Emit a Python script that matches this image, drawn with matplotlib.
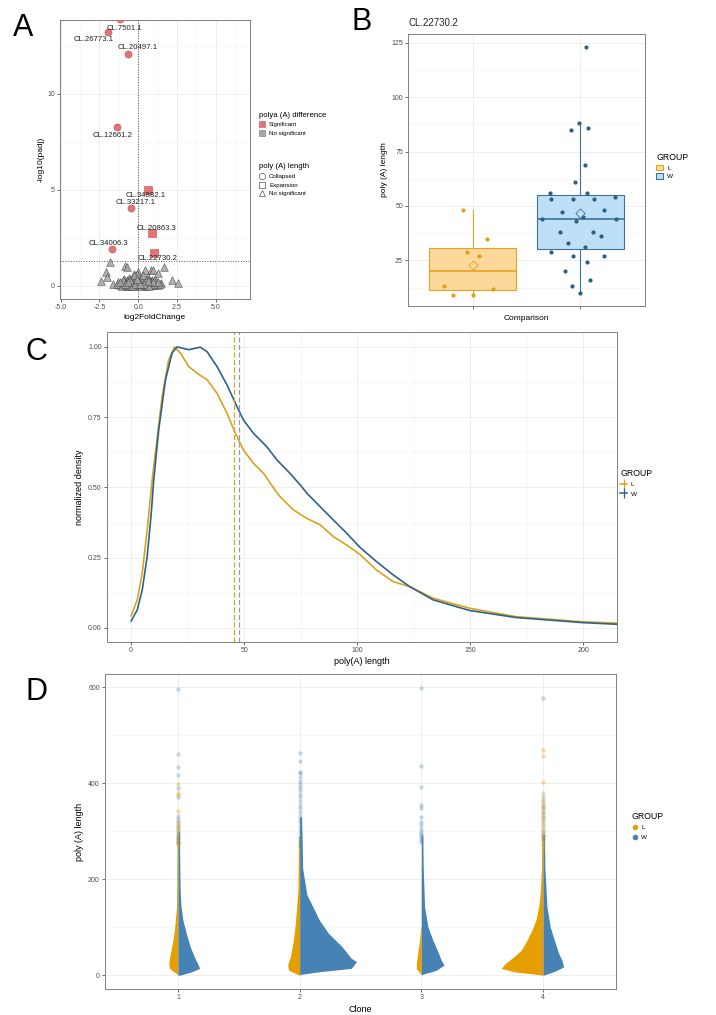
import matplotlib
matplotlib.use("Agg")
import matplotlib.pyplot as plt
from matplotlib.lines import Line2D
from matplotlib.patches import Patch
from matplotlib.ticker import MultipleLocator, FixedLocator, FormatStrFormatter

plt.rcParams['font.family'] = ['Liberation Sans', 'DejaVu Sans']
plt.rcParams['axes.unicode_minus'] = False

# ---------------- panel A : volcano ----------------
sig_names = ['CL.7501.1', 'CL.26773.1', 'CL.20497.1', 'CL.12661.2', 'CL.34882.1',
             'CL.33217.1', 'CL.20863.3', 'CL.34006.3', 'CL.22730.2']
sig_lfc = [-1.15, -1.92, -0.64, -1.35, 0.65, -0.45, 0.90, -1.67, 1.00]
sig_padj = [13.9, 13.2, 12.1, 8.27, 5.0, 4.06, 2.75, 1.92, 1.72]
# label offsets in points
lab_dx = [3, -11, 6.5, -3.6, -2, 3, 3, -3, 3]
lab_dy = [-7, -5, 4.3, -5.8, -4.3, 4.3, 3.6, 4.3, -4.3]

ns_lfc = [-1.8, -0.85, -0.75, 0.45, 0.85, 0.95, 1.65, 1.3, -2.1, -2.0, -2.4, 2.2, 2.55,
          0.0, -0.25, -1.6, -1.3, 1.5,
          -1.2, -1.1, -1.0, -0.95, -0.9, -0.85, -0.8, -0.75, -0.7, -0.65, -0.6, -0.55,
          -0.5, -0.45, -0.4, -0.35, -0.3, -0.25, -0.2, -0.15, -0.1, -0.05, 0.0, 0.05,
          0.1, 0.15, 0.2, 0.25, 0.3, 0.35, 0.4, 0.45, 0.5, 0.55, 0.6, 0.65, 0.7, 0.75,
          0.8, 0.85, 0.9, 0.95, 1.0, 1.1, 1.2, 1.3, 1.4, -1.35, -0.05, 0.2, -0.6, 0.6,
          -1.05, -0.92, -0.78, -0.62, -0.48, -0.33, -0.18, -0.02, 0.12, 0.28, 0.42,
          0.58, 0.72, 0.88, 1.02, 1.15, -0.98, -0.7, -0.42, -0.12, 0.18, 0.48, 0.78,
          1.05, -0.88, -0.55, -0.22, 0.08, 0.38, 0.68, 0.98, -0.3, 0.3, -0.65, 0.65,
          1.25, -1.15, 0.1, -0.1]
ns_padj = [1.25, 1.02, 1.0, 0.85, 0.85, 0.85, 1.0, 0.68, 0.72, 0.45, 0.25, 0.3, 0.15,
           0.72, 0.6, 0.12, 0.2, 0.15,
           0.05, 0.15, 0.25, 0.05, 0.35, 0.12, 0.22, 0.02, 0.3, 0.1, 0.42, 0.18,
           0.05, 0.28, 0.38, 0.12, 0.22, 0.02, 0.45, 0.15, 0.3, 0.08, 0.5, 0.2,
           0.35, 0.03, 0.42, 0.13, 0.25, 0.06, 0.33, 0.18, 0.02, 0.28, 0.1, 0.38, 0.16, 0.05,
           0.25, 0.12, 0.3, 0.03, 0.2, 0.08, 0.15, 0.03, 0.1, 0.1, 0.6, 0.02, 0.02, 0.45,
           0.02, 0.2, 0.1, 0.25, 0.15, 0.05, 0.32, 0.22, 0.1, 0.38, 0.05,
           0.22, 0.3, 0.04, 0.12, 0.26, 0.32, 0.05, 0.02, 0.15, 0.28, 0.35, 0.22,
           0.3, 0.08, 0.3, 0.08, 0.28, 0.12, 0.02, 0.2, 0.55, 0.55, 0.2, 0.25,
           0.22, 0.2, 0.12, 0.38]
padj_cut = 1.3

# ---------------- panel B : boxplot ----------------
b_title = 'CL.22730.2'
b_L = [48, 29, 27, 35, 13, 9, 9, 12]
b_L_jit = [-0.093, -0.058, 0.056, 0.13, -0.27, -0.18, 0.0, 0.19]
b_W = [123, 88, 85, 86, 69, 61, 56, 56, 53, 53, 53, 54, 47, 48, 45, 43, 44, 44,
       38, 38, 33, 36, 31, 29, 27, 27, 24, 20, 16, 13, 10]
b_W_jit = [0.053, -0.01, -0.086, 0.071, 0.046, -0.05, -0.28, 0.065, -0.27, -0.07, 0.127,
           0.318, -0.17, 0.22, 0.028, -0.046, 0.33, -0.36, -0.194, 0.12, -0.114, 0.188,
           0.04, -0.27, -0.07, 0.22, 0.058, -0.14, 0.09, -0.08, 0.0]

# ---------------- panel C : normalized density ----------------
c_x_W = [0, 2.7, 4.9, 7.1, 8.9, 10, 12.2, 15.2, 18.1, 20.3, 25.5, 30.6, 33.6, 38, 42.4,
         46.8, 49.7, 54.1, 60, 64.5, 70.3, 74.8, 77.7, 83.6, 89.5, 95.4, 101.2, 108.6,
         115.9, 123.3, 133.6, 149.8, 170.4, 199.8, 215.2]
c_y_W = [0.025, 0.064, 0.135, 0.254, 0.408, 0.527, 0.705, 0.883, 0.978, 1.0, 0.99, 0.999,
         0.983, 0.93, 0.865, 0.788, 0.74, 0.693, 0.645, 0.598, 0.55, 0.509, 0.48, 0.432,
         0.384, 0.337, 0.287, 0.236, 0.189, 0.147, 0.1, 0.062, 0.037, 0.019, 0.013]
c_x_L = [0, 2.7, 4.9, 7.1, 9.3, 13.7, 16.6, 19.2, 21.8, 25.5, 29.2, 33.6, 38, 42.4, 46.1,
         49.7, 54.1, 58.6, 63.7, 65.9, 71.8, 77.7, 83.6, 89.5, 95.4, 101.2, 108.6, 115.9,
         123.3, 133.6, 149.8, 170.4, 199.8, 215.2]
c_y_L = [0.043, 0.1, 0.195, 0.349, 0.527, 0.823, 0.954, 1.0, 0.978, 0.93, 0.906, 0.883,
         0.835, 0.764, 0.693, 0.633, 0.586, 0.55, 0.49, 0.467, 0.42, 0.39, 0.367, 0.325,
         0.295, 0.262, 0.206, 0.165, 0.147, 0.106, 0.07, 0.04, 0.022, 0.017]
c_mean_L = 45.6
c_mean_W = 47.7

# ---------------- panel D : split point clouds per clone ----------------
clones = [1, 2, 3, 4]
d_L_y = [[0, 3.5, 7, 14, 24, 45, 72, 100, 142, 200, 290],
         [0, 3.5, 10, 21, 38, 72, 108, 177, 290],
         [0, 5, 14, 24, 52, 72, 100],
         [0, 1.4, 7, 14, 24, 38, 52, 73, 94, 115, 142, 174, 222, 292]]
d_L_w = [[0, 0.014, 0.035, 0.068, 0.076, 0.063, 0.041, 0.027, 0.012, 0.01, 0.008],
         [0, 0.035, 0.09, 0.099, 0.076, 0.052, 0.035, 0.014, 0.008],
         [0, 0.014, 0.041, 0.041, 0.027, 0.014, 0.006],
         [0, 0.049, 0.241, 0.343, 0.31, 0.241, 0.178, 0.131, 0.09, 0.058, 0.035, 0.022,
          0.012, 0.01]]
d_W_y = [[0, 7, 14, 24, 38, 59, 87, 114, 142, 177, 250, 300],
         [0, 1.5, 7, 14, 28, 35, 59, 87, 115, 139, 167, 222, 292, 330],
         [0, 2, 10, 21, 31, 52, 72, 100, 142, 222, 292],
         [0, 7, 17, 31, 45, 73, 100, 142, 222, 292]]
d_W_w = [[0.019, 0.115, 0.178, 0.162, 0.134, 0.101, 0.068, 0.041, 0.025, 0.018, 0.014, 0.012],
         [0, 0.008, 0.161, 0.424, 0.468, 0.424, 0.349, 0.237, 0.161, 0.115, 0.06, 0.025,
          0.019, 0.014],
         [0, 0.014, 0.123, 0.187, 0.164, 0.131, 0.096, 0.055, 0.027, 0.016, 0.012],
         [0.006, 0.088, 0.17, 0.156, 0.129, 0.093, 0.06, 0.033, 0.016, 0.012]]
d_tail_W = [[595, 460, 433, 416, 389, 370, 331, 325, 318, 312, 306, 300, 294, 290, 286,
             282, 278, 275],
            [463, 446, 424, 420, 413, 405, 398, 392, 385, 378, 370, 362, 355, 348, 340,
             332, 325, 318, 310, 302, 296, 288, 280, 274, 268],
            [597, 435, 392, 354, 347, 330, 319, 312, 305, 298, 294, 290, 286, 282, 278],
            [578, 371, 360, 352, 345, 338, 330, 320, 310, 300, 294, 290, 284]]
d_tail_L = [[399, 380, 375, 342, 318, 310, 305, 295, 285, 278, 270],
            [],
            [],
            [469, 456, 403, 379, 365, 355, 348, 340, 332, 325, 315, 305, 298, 290, 280,
             270, 260]]

# colours
RED = '#E57373'
RED_E = '#B85454'
GREY = '#A6A6A6'
ORANGE = '#E69F00'
BLUE = '#4682B4'
C_L = '#DBA21D'
C_W = '#2E628C'
TXT = '#4D4D4D'


def bw(ax):
    ax.set_facecolor('white')
    for s in ax.spines.values():
        s.set_color('#808080')
        s.set_linewidth(0.7)
    ax.grid(True, which='major', color='#EBEBEB', lw=0.6)
    ax.grid(True, which='minor', color='#F4F4F4', lw=0.4)
    ax.set_axisbelow(True)
    ax.tick_params(which='major', length=2.2, width=0.5, color='#333333',
                   labelsize=5, labelcolor=TXT, pad=1.5)
    ax.tick_params(which='minor', length=0)


fig = plt.figure(figsize=(7.16, 10.15), dpi=100)

# ---- A
axA = fig.add_axes([0.0838, 0.7054, 0.265, 0.2749])
bw(axA)
axA.scatter(ns_lfc, ns_padj, marker='^', s=30, facecolor=GREY, edgecolor='#4A4A4A',
            linewidth=0.45, alpha=0.85, zorder=3)
for i, name in enumerate(sig_names):
    m = 'o' if sig_lfc[i] < 0 else 's'
    axA.scatter(sig_lfc[i], sig_padj[i], marker=m, s=26, facecolor=RED,
                edgecolor=RED_E, linewidth=0.4, zorder=4)
    axA.annotate(name, (sig_lfc[i], sig_padj[i]), xytext=(lab_dx[i], lab_dy[i]),
                 textcoords='offset points', ha='center', va='center', fontsize=5.6,
                 color='#222222', zorder=5, annotation_clip=False)
axA.axhline(padj_cut, ls=':', color='#555555', lw=0.7)
axA.axvline(0, ls=':', color='#555555', lw=0.7)
axA.set_xlim(-5.05, 7.2)
axA.set_ylim(-0.68, 13.85)
axA.xaxis.set_major_locator(FixedLocator([-5, -2.5, 0, 2.5, 5]))
axA.xaxis.set_minor_locator(MultipleLocator(1.25))
axA.set_xticklabels(['-5.0', '-2.5', '0.0', '2.5', '5.0'])
axA.yaxis.set_major_locator(MultipleLocator(5))
axA.yaxis.set_minor_locator(MultipleLocator(2.5))
axA.set_xlabel('log2FoldChange', fontsize=6, labelpad=2)
axA.set_ylabel('-log10(padj)', fontsize=6, labelpad=2)

h1 = [Line2D([], [], marker='s', ls='', ms=5, mfc=RED, mec=RED_E, mew=0.4),
      Line2D([], [], marker='s', ls='', ms=5, mfc=GREY, mec='#777777', mew=0.4)]
fig.legend(h1, ['Significant', 'No significant'], title='polya (A) difference',
           loc='upper left', bbox_to_anchor=(0.358, 0.893), frameon=False,
           fontsize=4.4, title_fontsize=5.6, alignment='left', handlelength=1.0,
           handletextpad=0.6, labelspacing=0.55, borderpad=0)
h2 = [Line2D([], [], marker='o', ls='', ms=4.5, mfc='none', mec='#555555', mew=0.5),
      Line2D([], [], marker='s', ls='', ms=4.5, mfc='none', mec='#555555', mew=0.5),
      Line2D([], [], marker='^', ls='', ms=5, mfc='none', mec='#555555', mew=0.5)]
fig.legend(h2, ['Collapsed', 'Expansion', 'No significant'], title='poly (A) length',
           loc='upper left', bbox_to_anchor=(0.358, 0.842), frameon=False,
           fontsize=4.4, title_fontsize=5.6, alignment='left', handlelength=1.0,
           handletextpad=0.6, labelspacing=0.55, borderpad=0)

# ---- B
axB = fig.add_axes([0.570, 0.6985, 0.331, 0.268])
bw(axB)
for pos, vals, fc, ec in [(1, b_L, '#FDD89B', '#E6A322'), (2, b_W, '#BEE0F6', '#3D7199')]:
    axB.boxplot([vals], positions=[pos], widths=0.81, patch_artist=True, showfliers=False,
                whis=1.5, showcaps=False,
                boxprops=dict(facecolor=fc, edgecolor=ec, linewidth=0.8),
                medianprops=dict(color=ec, linewidth=1.2),
                whiskerprops=dict(color=ec, linewidth=0.8), zorder=2)
    axB.scatter([pos], [sum(vals) / len(vals)], marker='D', s=22, facecolor=fc,
                edgecolor=ec, linewidth=0.6, zorder=4)
axB.scatter([1 + j for j in b_L_jit], b_L, s=4, color='#E39E1A', zorder=3)
axB.scatter([2 + j for j in b_W_jit], b_W, s=4, color='#2D5F80', zorder=3)
axB.set_xlim(0.4, 2.6)
axB.set_ylim(4, 129)
axB.set_xticks([1, 2])
axB.set_xticklabels(['', ''])
axB.yaxis.set_major_locator(FixedLocator([25, 50, 75, 100, 125]))
axB.yaxis.set_minor_locator(FixedLocator([12.5, 37.5, 62.5, 87.5, 112.5]))
axB.set_xlabel('Comparison', fontsize=6, labelpad=3)
axB.set_ylabel('poly (A) length', fontsize=6, labelpad=2)
axB.set_title(b_title, fontsize=7, loc='left', pad=6, color='#222222')
hB = [Patch(facecolor='#FDD89B', edgecolor='#E6A322', lw=0.8),
      Patch(facecolor='#BEE0F6', edgecolor='#3D7199', lw=0.8)]
fig.legend(hB, ['L', 'W'], title='GROUP', loc='upper left', bbox_to_anchor=(0.912, 0.852),
           frameon=False, fontsize=4.6, title_fontsize=6.3, alignment='left',
           handlelength=1.1, handleheight=0.9, handletextpad=0.6, labelspacing=0.4,
           borderpad=0)

# ---- C
axC = fig.add_axes([0.1494, 0.3675, 0.7123, 0.3054])
bw(axC)
axC.plot(c_x_L, c_y_L, color=C_L, lw=1.2)
axC.plot(c_x_W, c_y_W, color=C_W, lw=1.2)
axC.axvline(c_mean_L, ls='--', color=C_L, lw=0.9, dashes=(4, 2))
axC.axvline(c_mean_W, ls='--', color='#8DA0B3', lw=0.9, dashes=(4, 2))
axC.set_xlim(-10.7, 215)
axC.set_ylim(-0.05, 1.053)
axC.xaxis.set_major_locator(MultipleLocator(50))
axC.xaxis.set_minor_locator(MultipleLocator(25))
axC.yaxis.set_major_locator(MultipleLocator(0.25))
axC.yaxis.set_minor_locator(MultipleLocator(0.125))
axC.yaxis.set_major_formatter(FormatStrFormatter('%.2f'))
axC.set_xlabel('poly(A) length', fontsize=6.5, labelpad=2)
axC.set_ylabel('normalized density', fontsize=6.5, labelpad=3)
hC = [Line2D([], [], color=C_L, lw=1.1, marker='|', ms=7, mew=0.9),
      Line2D([], [], color=C_W, lw=1.1, marker='|', ms=7, mew=0.9)]
fig.legend(hC, ['L', 'W'], title='GROUP', loc='upper left', bbox_to_anchor=(0.862, 0.541),
           frameon=False, fontsize=4.6, title_fontsize=6.3, alignment='left',
           handlelength=1.0, handletextpad=0.6, labelspacing=0.6, borderpad=0)

# ---- D
axD = fig.add_axes([0.1466, 0.0256, 0.7137, 0.3103])
bw(axD)
for k, c in enumerate(clones):
    axD.fill_betweenx(d_L_y[k], [c - w for w in d_L_w[k]], c, color=ORANGE, lw=0,
                      zorder=3)
    axD.fill_betweenx(d_W_y[k], c, [c + w for w in d_W_w[k]], color=BLUE, lw=0,
                      zorder=3)
    axD.scatter([c] * len(d_tail_W[k]), d_tail_W[k], s=10, color=BLUE, alpha=0.3,
                lw=0, zorder=4)
    if d_tail_L[k]:
        axD.scatter([c] * len(d_tail_L[k]), d_tail_L[k], s=10, color=ORANGE,
                    alpha=0.35, lw=0, zorder=4)
axD.set_xlim(0.4, 4.6)
axD.set_ylim(-29, 627)
axD.set_xticks(clones)
axD.set_xticklabels([str(c) for c in clones])
axD.yaxis.set_major_locator(MultipleLocator(200))
axD.yaxis.set_minor_locator(MultipleLocator(100))
axD.set_xlabel('Clone', fontsize=6.5, labelpad=3)
axD.set_ylabel('poly (A) length', fontsize=6.5, labelpad=3)
hD = [Line2D([], [], marker='o', ls='', ms=3, color=ORANGE),
      Line2D([], [], marker='o', ls='', ms=3, color=BLUE)]
fig.legend(hD, ['L', 'W'], title='GROUP', loc='upper left', bbox_to_anchor=(0.878, 0.203),
           frameon=False, fontsize=4.6, title_fontsize=6.3, alignment='left',
           handlelength=1.0, handletextpad=0.5, labelspacing=0.6, borderpad=0)

# panel letters
for lab, x, y in [('A', 0.018, 0.9645), ('B', 0.4916, 0.9704), ('C', 0.035, 0.6453),
                  ('D', 0.035, 0.3103)]:
    fig.text(x, y, lab, fontsize=22, va='baseline', ha='left', color='black')

fig.savefig('out.png', dpi=100, facecolor='white')
